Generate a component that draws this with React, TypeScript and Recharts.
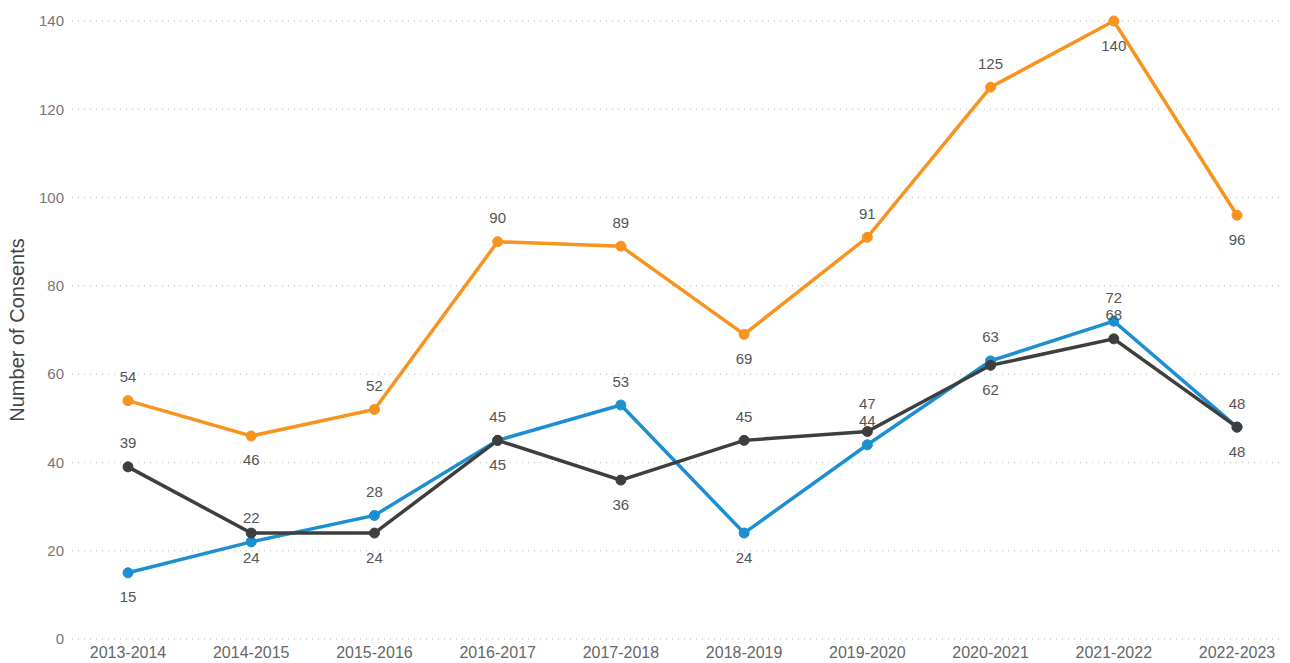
import * as React from 'react';
import { LineChart, Line, XAxis, YAxis, CartesianGrid } from 'recharts';

const years = [
	'2013-2014',
	'2014-2015',
	'2015-2016',
	'2016-2017',
	'2017-2018',
	'2018-2019',
	'2019-2020',
	'2020-2021',
	'2021-2022',
	'2022-2023',
];
const totalConsents = [54, 46, 52, 90, 89, 69, 91, 125, 140, 96];
const blueConsents = [15, 22, 28, 45, 53, 24, 44, 63, 72, 48];
const greyConsents = [39, 24, 24, 45, 36, 45, 47, 62, 68, 48];
const yTicks = [0, 20, 40, 60, 80, 100, 120, 140];

// where each data label sits relative to its point ('high' = a bit further up)
const totalLabelSide = ['up', 'down', 'up', 'up', 'up', 'down', 'up', 'up', 'down', 'down'];
const blueLabelSide = ['down', 'up', 'up', 'up', 'up', 'down', 'up', 'up', 'up', 'up'];
const greyLabelSide = ['up', 'down', 'down', 'down', 'down', 'up', 'high', 'down', 'up', 'down'];

const data = years.map((year, i) => ({
	year,
	total: totalConsents[i],
	blue: blueConsents[i],
	grey: greyConsents[i],
}));

const font = "'Liberation Sans', Arial, sans-serif";

function makeLabel(sides: string[]) {
	return (props: any) => {
		const { x, y, value, index } = props;
		const side = sides[index];
		const dy = side === 'down' ? 24 : side === 'high' ? -28 : -24;
		return (
			<text
				key={`lbl-${index}`}
				x={x}
				y={y + dy}
				textAnchor='middle'
				dominantBaseline='central'
				fontSize={15}
				fontFamily={font}
				fill='#555'
			>
				{value}
			</text>
		);
	};
}

export default function App() {
	return (
		<div style={{ position: 'absolute', left: 0, top: 0, background: '#fff' }}>
			<LineChart
				width={1290}
				height={663}
				data={data}
				margin={{ top: 21, right: 8, bottom: 0, left: 0 }}
			>
				<CartesianGrid
					vertical={false}
					stroke='#cfcfcf'
					strokeDasharray='1 5'
					strokeWidth={1.5}
				/>
				<XAxis
					dataKey='year'
					height={24}
					axisLine={false}
					tickLine={false}
					padding={{ left: 56, right: 45 }}
					tick={{ fontSize: 16, fill: '#666', fontFamily: font }}
					interval={0}
				/>
				<YAxis
					width={72}
					domain={[0, 140]}
					ticks={yTicks}
					axisLine={false}
					tickLine={false}
					tick={{ fontSize: 15, fill: '#777', fontFamily: font }}
					label={{
						value: 'Number of Consents',
						angle: -90,
						position: 'center',
						dx: -19,
						style: { fontSize: 20, fill: '#444', fontFamily: font, textAnchor: 'middle' },
					}}
				/>
				<Line
					dataKey='total'
					stroke='#F7931E'
					strokeWidth={3.5}
					dot={{ r: 5, fill: '#F7931E', stroke: '#F7931E', strokeWidth: 1 }}
					label={makeLabel(totalLabelSide)}
					isAnimationActive={false}
				/>
				<Line
					dataKey='blue'
					stroke='#1B8FD2'
					strokeWidth={3.5}
					dot={{ r: 5, fill: '#1B8FD2', stroke: '#1B8FD2', strokeWidth: 1 }}
					label={makeLabel(blueLabelSide)}
					isAnimationActive={false}
				/>
				<Line
					dataKey='grey'
					stroke='#3E3E3E'
					strokeWidth={3.5}
					dot={{ r: 5, fill: '#3E3E3E', stroke: '#3E3E3E', strokeWidth: 1 }}
					label={makeLabel(greyLabelSide)}
					isAnimationActive={false}
				/>
			</LineChart>
		</div>
	);
}
